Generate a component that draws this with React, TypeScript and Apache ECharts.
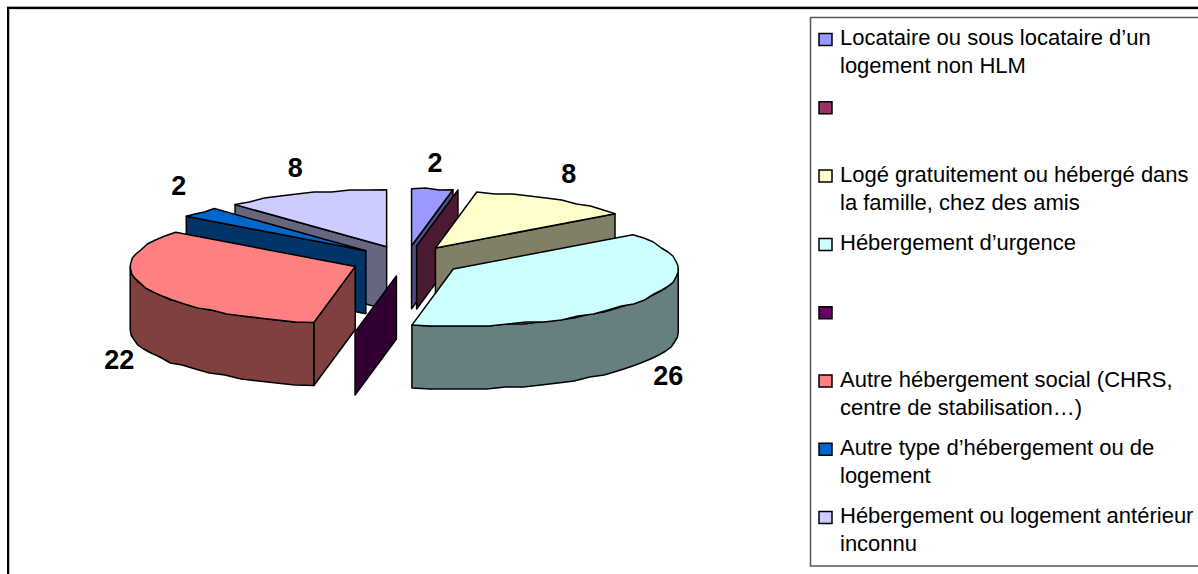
import React, { useEffect, useRef } from "react";
import * as echarts from "echarts";

const categories = [
  "Locataire ou sous locataire d’un\nlogement non HLM",
  "",
  "Logé gratuitement ou hébergé dans\nla famille, chez des amis",
  "Hébergement d’urgence",
  "",
  "Autre hébergement social (CHRS,\ncentre de stabilisation…)",
  "Autre type d’hébergement ou de\nlogement",
  "Hébergement ou logement antérieur\ninconnu",
];
const values = [2, 0, 8, 26, 0, 22, 2, 8];
const colors = ["#9999FF", "#993366", "#FFFFCC", "#CCFFFF", "#660066", "#FF8080", "#0066CC", "#CCCCFF"];
const drawOrder = [0, 1, 2, 3, 7, 6, 5, 4];

const FONT = "'Liberation Sans', Arial, sans-serif";
const CX = 406.5, CY = 261, RX = 225, RY = 57, DEPTH = 63, EX = 55, EY = 15.3, GRID = 2;
const total = values.reduce((a, b) => a + b, 0);

const rad = (d: number) => (d * Math.PI) / 180;
const darken = (hex: string) => {
  const n = parseInt(hex.slice(1), 16);
  const c = [(n >> 16) & 255, (n >> 8) & 255, n & 255].map((v) => Math.round(v / 2));
  return `rgb(${c[0]},${c[1]},${c[2]})`;
};

const startAngles: number[] = [];
values.reduce((acc, v, i) => {
  startAngles[i] = (acc / total) * 360;
  return acc + v;
}, 0);

function renderSlice(_params: any, api: any) {
  const i = api.value(0) as number;
  const v = api.value(1) as number;
  const a = startAngles[i];
  const b = a + (v / total) * 360;
  const m = (a + b) / 2;
  const ax = CX + EX * Math.sin(rad(m));
  const ay = CY - EY * Math.cos(rad(m));
  const rim = (t: number, d = 0): number[] => [ax + RX * Math.sin(rad(t)), ay - RY * Math.cos(rad(t)) + d];
  // The original's arcs are coarse polylines snapped to a low-resolution grid.
  const arc = (from: number, to: number, d = 0) => {
    const n = Math.max(1, Math.ceil((to - from) / 5));
    const pts: number[][] = [];
    for (let k = 0; k <= n; k++) {
      const p = rim(from + ((to - from) * k) / n, 0);
      const inner = k > 0 && k < n;
      pts.push(inner ? [p[0], Math.round(p[1] / GRID) * GRID + d] : [p[0], p[1] + d]);
    }
    return pts;
  };
  const line = { stroke: "#000", lineWidth: 1.5, lineJoin: "round" };
  const wall = darken(colors[i]);
  const children: any[] = [];
  const radial = (t: number) => {
    const p = rim(t);
    children.push({
      type: "polygon",
      shape: { points: [[ax, ay], p, [p[0], p[1] + DEPTH], [ax, ay + DEPTH]] },
      style: { fill: wall, ...line },
    });
  };
  if (Math.sin(rad(a)) < -1e-6) radial(a);
  if (Math.sin(rad(b)) > 1e-6) radial(b);
  const wa = Math.max(a, 90), wb = Math.min(b, 270);
  if (v > 0 && wb > wa) {
    children.push({
      type: "polygon",
      shape: { points: [...arc(wa, wb), ...arc(wa, wb, DEPTH).reverse()] },
      style: { fill: wall, ...line },
    });
  }
  if (v > 0) {
    children.push({
      type: "polygon",
      shape: { points: [[ax, ay], ...arc(a, b)] },
      style: { fill: colors[i], ...line },
    });
    const c = Math.cos(rad(m));
    const p = rim(m, c < 0 ? DEPTH : 0);
    children.push({
      type: "text",
      z2: 50,
      style: {
        text: String(v),
        x: p[0] + 28 * Math.sin(rad(m)),
        y: p[1] + (c < 0 ? -27 * c : -26),
        fill: "#000",
        font: `bold 27px ${FONT}`,
        align: "center",
        verticalAlign: "middle",
      },
    });
  }
  return { type: "group", children };
}

const LEG_X = 819, LEG_Y = 33.5, LEG_STEP = 68.3;
const legendGraphics = categories.flatMap((name, i) => {
  const y = LEG_Y + i * LEG_STEP;
  const items: any[] = [
    {
      type: "rect",
      shape: { x: LEG_X, y, width: 13, height: 12 },
      style: { fill: colors[i], stroke: "#000", lineWidth: 1.5 },
    },
  ];
  if (name) {
    items.push({
      type: "text",
      style: {
        text: name,
        x: 840,
        y: y - 10,
        fill: "#000",
        font: `22px ${FONT}`,
        lineHeight: 28,
      },
    });
  }
  return items;
});

export default function App() {
  const ref = useRef<HTMLDivElement>(null);
  useEffect(() => {
    const chart = echarts.init(ref.current!, null, { renderer: "svg" });
    chart.setOption({
      animation: false,
      backgroundColor: "#fff",
      graphic: [
        { type: "polyline", shape: { points: [[9.5, 574], [9.5, 9], [1198, 9]] }, style: { stroke: "#bbb", lineWidth: 1, fill: "none" } },
        { type: "polyline", shape: { points: [[6.5, 6.5], [1198, 6.5]] }, style: { stroke: "#aaa", lineWidth: 1, fill: "none" } },
        { type: "polyline", shape: { points: [[8, 574], [8, 8], [1198, 8]] }, style: { stroke: "#000", lineWidth: 2, fill: "none" } },
        { type: "rect", shape: { x: 810.5, y: 17.5, width: 400, height: 548.5 }, style: { fill: "#fff", stroke: "#555", lineWidth: 1.5 } },
        ...legendGraphics,
      ],
      series: [
        {
          type: "custom",
          coordinateSystem: "none",
          silent: true,
          clip: false,
          renderItem: renderSlice,
          data: drawOrder.map((i) => [i, values[i]]),
        },
      ],
    });
    return () => chart.dispose();
  }, []);
  return <div ref={ref} style={{ position: "fixed", left: 0, top: 0, width: 1198, height: 574 }} />;
}
